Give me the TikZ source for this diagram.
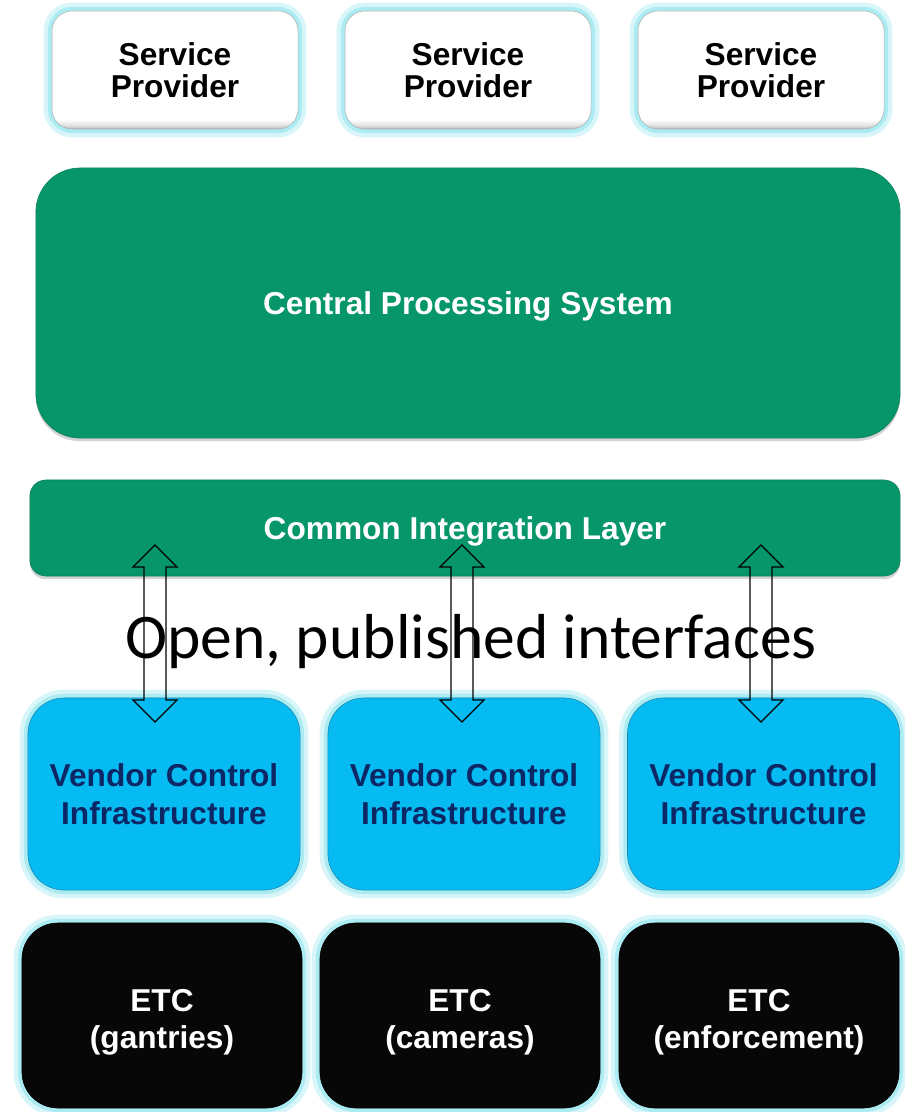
\documentclass[tikz,border=0pt]{standalone}
\usepackage{fontspec}
\setmainfont{Liberation Sans}
\newfontfamily\calibri{Carlito}
\usetikzlibrary{calc,shadows}

\definecolor{cpsgreen}{HTML}{07966A}
\definecolor{cpsedge}{HTML}{0B805B}
\definecolor{vendorblue}{HTML}{06BAF2}
\definecolor{vendoredge}{HTML}{1E86B0}
\definecolor{vendortext}{HTML}{0C2766}
\definecolor{glowcyan}{HTML}{8FE4EE}
\definecolor{etcblack}{HTML}{070707}

% white box, grey only along the bottom edge
\pgfdeclareverticalshading{spshade}{100bp}{color(0bp)=(black!30); color(25bp)=(black!30);
  color(26.5bp)=(black!12); color(29bp)=(white); color(100bp)=(white)}

\tikzset{
  glow/.style={preaction={draw=glowcyan!35, line width=0.42cm},
               preaction={draw=glowcyan!75, line width=0.2cm}},
  boxfont/.style={font=\fontsize{22.5}{27}\selectfont\bfseries},
  spbox/.style={glow, draw=gray!60, shade, shading=spshade,
                rounded corners=0.5cm, align=center,
                minimum width=6.15cm, minimum height=2.95cm, inner sep=0pt,
                font=\fontsize{22.5}{23}\selectfont\bfseries},
  greenbox/.style={boxfont, draw=cpsedge, fill=cpsgreen, text=white,
                   text height=16pt, text depth=0pt,
                   drop shadow={opacity=0.35, shadow xshift=0pt, shadow yshift=-0.08cm}},
  vendorbox/.style={glow, boxfont, draw=vendoredge, fill=vendorblue, text=vendortext,
                    rounded corners=0.9cm, align=center, inner sep=0pt,
                    minimum width=6.8cm, minimum height=4.8cm},
  etcbox/.style={glow, draw=black, fill=etcblack, text=white,
                 rounded corners=0.9cm, align=center, inner sep=0pt,
                 minimum width=7cm, minimum height=4.625cm,
                 font=\fontsize{22.5}{26}\selectfont\bfseries},
  twoway/.style={draw=black, line width=0.9pt, line join=miter,
    to path={let \p1=(\tikztostart), \p2=(\tikztotarget) in
      (\x1,\y1) -- (\x1+0.55cm,\y1-0.55cm) -- (\x1+0.275cm,\y1-0.55cm)
      -- (\x2+0.275cm,\y2+0.55cm) -- (\x2+0.55cm,\y2+0.55cm) -- (\x2,\y2)
      -- (\x2-0.55cm,\y2+0.55cm) -- (\x2-0.275cm,\y2+0.55cm)
      -- (\x1-0.275cm,\y1-0.55cm) -- (\x1-0.55cm,\y1-0.55cm) -- cycle}}
}

\begin{document}
\begin{tikzpicture}[x=0.025cm, y=-0.025cm]
\useasboundingbox (0,0) rectangle (904,1112);

% service providers
\node (sp1) [spbox] at (175,70) {Service\\Provider};
\node (sp2) [spbox] at (468,70) {Service\\Provider};
\node (sp3) [spbox] at (761,70) {Service\\Provider};

% central layers
\node (cps) [greenbox, rounded corners=1.1cm, minimum width=21.6cm, minimum height=6.75cm]
  at (468,303) {Central Processing System};
\node (cil) [greenbox, rounded corners=0.4cm, minimum width=21.75cm, minimum height=2.4cm]
  at (465,528) {Common Integration Layer};

% vendor control
\node (vci1) [vendorbox] at (164,794) {Vendor Control\\Infrastructure};
\node (vci2) [vendorbox] at (464,794) {Vendor Control\\Infrastructure};
\node (vci3) [vendorbox] at (763.5,794) {Vendor Control\\Infrastructure};

% field equipment
\node (etc1) [etcbox] at (162,1015.5) {\rule{0pt}{25pt}ETC\\(gantries)};
\node (etc2) [etcbox] at (460,1015.5) {\rule{0pt}{25pt}ETC\\(cameras)};
\node (etc3) [etcbox] at (759,1015.5) {\rule{0pt}{25pt}ETC\\(enforcement)};

\node (open) [anchor=base, font=\calibri\fontsize{45.2}{54}\selectfont]
  at (471,658) {Open, published interfaces};

% interface arrows
\coordinate (up1) at (155,545);
\coordinate (dn1) at (155,722);
\coordinate (up2) at (462,545);
\coordinate (dn2) at (462,722);
\coordinate (up3) at (761,545);
\coordinate (dn3) at (761,722);

\draw[twoway] (up1) to (dn1);
\draw[twoway] (up2) to (dn2);
\draw[twoway] (up3) to (dn3);

\end{tikzpicture}
\end{document}
